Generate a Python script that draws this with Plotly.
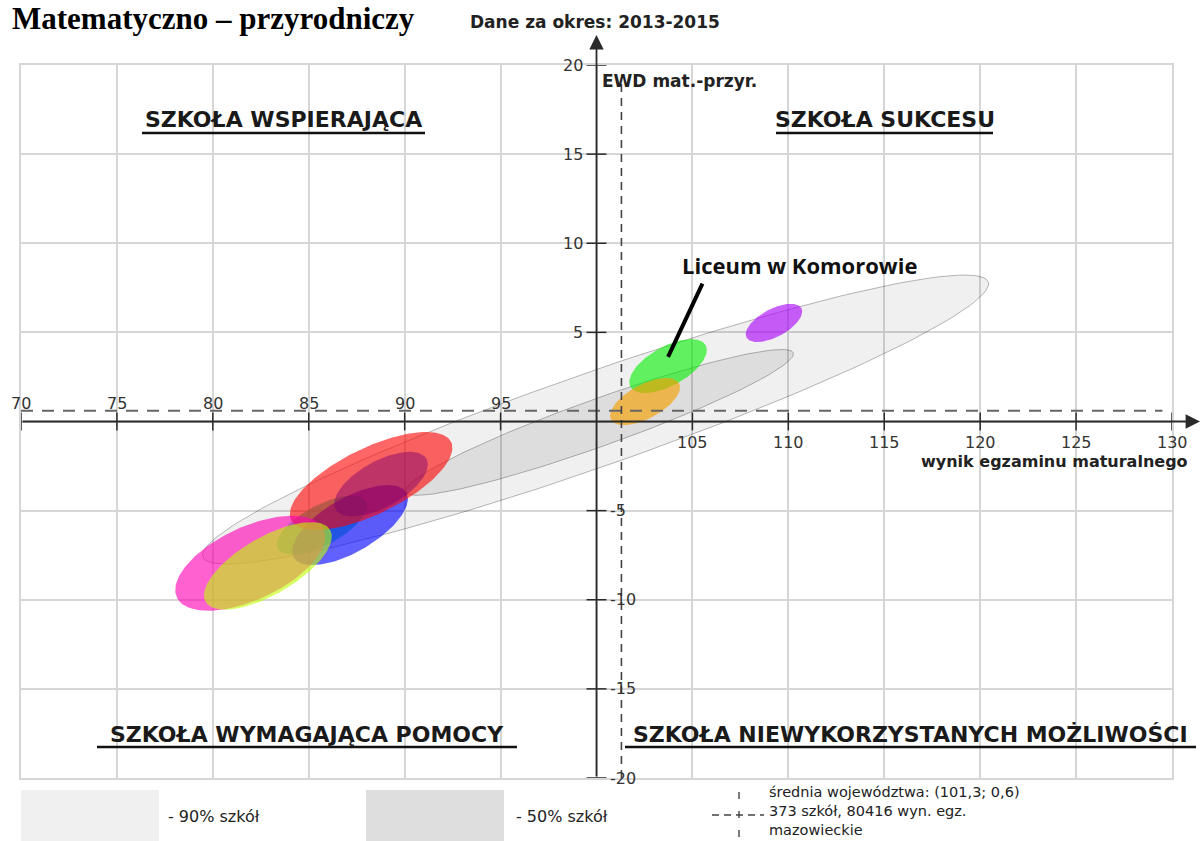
import numpy as np
import plotly.graph_objects as go

# ---------------- data ----------------
x_tick_vals = [70, 75, 80, 85, 90, 95, 105, 110, 115, 120, 125, 130]
y_tick_vals = [20, 15, 10, 5, -5, -10, -15, -20]
mean_x, mean_y = 101.3, 0.6

# ellipses: name, centre x, centre y, semi-axis a / b (x-units), angle (deg, on screen)
ell_names = ["90% szkół", "50% szkół", "teal", "blue", "red", "maroon", "magenta", "lime",
             "green", "orange", "purple"]
ell_cx = [99.95, 100.15, 85.69, 87.15, 88.25, 88.77, 81.95, 82.87, 103.73, 102.53, 109.25]
ell_cy = [0.11, -0.05, -5.81, -5.81, -3.34, -3.51, -7.95, -8.10, 3.11, 1.12, 5.53]
ell_a = [21.69, 10.74, 2.61, 3.39, 4.64, 2.71, 4.22, 3.75, 2.24, 2.01, 1.62]
ell_b = [2.45, 1.23, 1.04, 1.41, 1.72, 1.20, 1.90, 1.50, 1.02, 0.89, 0.73]
ell_ang = [19.3, 19.7, 28, 30, 26, 29, 25, 30, 29, 28, 28]

ell_fill = ["rgba(0,0,0,0.06)", "rgba(0,0,0,0.08)", "rgba(0,210,150,0.65)",
            "rgba(0,0,255,0.62)", "rgba(255,0,0,0.6)", "rgba(120,0,110,0.45)",
            "rgba(255,0,180,0.62)", "rgba(190,255,0,0.6)",
            "rgba(0,240,0,0.6)", "rgba(245,160,0,0.65)", "rgba(170,0,250,0.62)"]
ell_line = ["rgba(0,0,0,0.28)", "rgba(0,0,0,0.28)"] + ["rgba(0,0,0,0)"] * 9

quad_labels = ["SZKOŁA WSPIERAJĄCA", "SZKOŁA SUKCESU", "SZKOŁA WYMAGAJĄCA POMOCY",
               "SZKOŁA NIEWYKORZYSTANYCH MOŻLIWOŚCI"]
legend_lines = ["średnia województwa: (101,3; 0,6)", "373 szkół, 80416 wyn. egz.", "mazowieckie"]

# ---------------- layout geometry ----------------
W, H = 1201, 841
ML, MR, MT, MB = 21, 29, 65, 63
PW, PH = W - ML - MR, H - MT - MB
X_RANGE, Y_RANGE = [70, 130], [-20, 20]
SX = PW / (X_RANGE[1] - X_RANGE[0])
SY = PH / (Y_RANGE[1] - Y_RANGE[0])


def px(xp):
    return (xp - ML) / PW


def py(yp):
    return (H - MB - yp) / PH


def ellipse(cx, cy, a, b, ang):
    t = np.linspace(0, 2 * np.pi, 161)
    th = np.radians(ang)
    dx = a * np.cos(t) * np.cos(th) - b * np.sin(t) * np.sin(th)
    dy = (a * np.cos(t) * np.sin(th) + b * np.sin(t) * np.cos(th)) * SX / SY
    return cx + dx, cy + dy


fig = go.Figure()
for i in range(len(ell_names)):
    ex, ey = ellipse(ell_cx[i], ell_cy[i], ell_a[i], ell_b[i], ell_ang[i])
    fig.add_trace(go.Scatter(x=ex, y=ey, mode="lines", fill="toself",
                             fillcolor=ell_fill[i],
                             line=dict(color=ell_line[i], width=1),
                             hoverinfo="skip", showlegend=False, name=ell_names[i]))

GRID = "#d6d6d6"
AX = "#2a2a2a"
shapes = []
annotations = []


def ann(**kw):
    kw.setdefault("showarrow", False)
    kw.setdefault("yanchor", "middle")
    kw.setdefault("xanchor", "center")
    annotations.append(kw)


# mean dashed lines
shapes.append(dict(type="line", xref="x", yref="y", x0=X_RANGE[0], x1=129.5, y0=mean_y, y1=mean_y,
                   line=dict(color="#666", width=2, dash="12px,9px"), layer="above"))
shapes.append(dict(type="line", xref="x", yref="y", x0=mean_x, x1=mean_x, y0=Y_RANGE[0], y1=19.0,
                   line=dict(color="#444", width=1.6, dash="8px,6px"), layer="above"))

TF = dict(family="DejaVu Sans", size=16, color="#333")
# tick marks
for v in x_tick_vals:
    shapes.append(dict(type="line", xref="x", yref="y", x0=v, x1=v, y0=-0.5, y1=0.5,
                       line=dict(color=AX, width=1.5), layer="above"))
    ann(x=v, y=0, xref="x", yref="y", text=str(v), yshift=18 if v < 100 else -21, font=TF)
for v in y_tick_vals:
    shapes.append(dict(type="line", xref="x", yref="y", x0=99.48, x1=100.52, y0=v, y1=v,
                       line=dict(color=AX, width=1.5), layer="above"))
    ann(x=100, y=v, xref="x", yref="y", text=str(v),
        xanchor="right" if v > 0 else "left", xshift=-12 if v > 0 else 11, font=TF)

# axes with arrows
annotations.append(dict(x=px(1200), y=0, xref="paper", yref="y", ax=-(1200 - ML), ay=0,
                        axref="pixel", ayref="pixel", text="", showarrow=True,
                        arrowhead=2, arrowsize=1.6, arrowwidth=1.8, arrowcolor=AX, standoff=0))
annotations.append(dict(x=100, y=py(35), xref="x", yref="paper", ax=0, ay=(H - MB) - 35,
                        text="", showarrow=True,
                        arrowhead=2, arrowsize=1.6, arrowwidth=1.8, arrowcolor=AX, standoff=0))

# pointer to the school
annotations.append(dict(x=103.73, y=3.62, ax=105.56, ay=7.82, xref="x", yref="y",
                        axref="x", ayref="y", text="", showarrow=True, arrowhead=0,
                        arrowwidth=4, arrowcolor="#000"))
ann(x=110.6, y=8.78, xref="x", yref="y", text="<b>Liceum w Komorowie</b>",
    font=dict(family="Open Sans", size=22, color="#111"))

# axis titles
ann(x=100.2, y=19.1, xref="x", yref="y", text="<b>EWD mat.-przyr.</b>", xanchor="left",
    font=dict(family="DejaVu Sans", size=17, color="#222"))
ann(x=px(1190), y=py(461), xref="paper", yref="paper", text="<b>wynik egzaminu maturalnego</b>",
    xanchor="right", font=dict(family="DejaVu Sans", size=16, color="#222"))

# quadrant labels (text centre x, centre y, underline span in window px)
QF = dict(family="DejaVu Sans", size=22, color="#1a1a1a", weight="bold")
quad_pos = [(283.5, 120, 142, 425, 133), (884.5, 120, 776, 993, 133),
            (307, 734, 97, 517, 747), (910.5, 734, 625, 1196, 747)]
for lab, (cxp, cyp, u0, u1, uy) in zip(quad_labels, quad_pos):
    ann(x=px(cxp), y=py(cyp), xref="paper", yref="paper", text=lab, font=QF)
    shapes.append(dict(type="line", xref="paper", yref="paper", x0=px(u0), x1=px(u1),
                       y0=py(uy), y1=py(uy), line=dict(color="#111", width=2.5)))

# titles at top
ann(x=px(10), y=py(18), xref="paper", yref="paper", text="<b>Matematyczno – przyrodniczy</b>",
    xanchor="left", font=dict(family="Liberation Serif", size=31, color="#000"))
ann(x=px(595), y=py(22), xref="paper", yref="paper", text="<b>Dane za okres: 2013-2015</b>",
    font=dict(family="DejaVu Sans", size=17, color="#222"))

# legend row
shapes.append(dict(type="rect", xref="paper", yref="paper", x0=px(21), x1=px(159),
                   y0=py(845), y1=py(790), fillcolor="#f0f0f0", line=dict(width=0)))
shapes.append(dict(type="rect", xref="paper", yref="paper", x0=px(366), x1=px(504),
                   y0=py(845), y1=py(790), fillcolor="#dedede", line=dict(width=0)))
LF = dict(family="DejaVu Sans", size=16, color="#222")
ann(x=px(166), y=py(816), xref="paper", yref="paper", text="- 90% szkół", xanchor="left", font=LF)
ann(x=px(514), y=py(816), xref="paper", yref="paper", text="- 50% szkół", xanchor="left", font=LF)
shapes.append(dict(type="line", xref="paper", yref="paper", x0=px(712), x1=px(764),
                   y0=py(815), y1=py(815), line=dict(color="#444", width=1.4, dash="7px,5px")))
shapes.append(dict(type="line", xref="paper", yref="paper", x0=px(739), x1=px(739),
                   y0=py(792), y1=py(841), line=dict(color="#444", width=1.4, dash="7px,12px")))
ann(x=px(767), y=py(811), xref="paper", yref="paper", text="<br>".join(legend_lines),
    xanchor="left", align="left", font=dict(family="DejaVu Sans", size=14.5, color="#222"))

fig.update_layout(
    width=W, height=H, autosize=False,
    margin=dict(l=ML, r=MR, t=MT, b=MB, pad=0),
    paper_bgcolor="white", plot_bgcolor="white",
    xaxis=dict(range=X_RANGE, tick0=70, dtick=5, showgrid=True, gridcolor=GRID, gridwidth=2,
               showticklabels=False, ticks="", zeroline=False, showline=True, mirror=True,
               linecolor=GRID, linewidth=2, fixedrange=True),
    yaxis=dict(range=Y_RANGE, tick0=0, dtick=5, showgrid=True, gridcolor=GRID, gridwidth=2,
               showticklabels=False, ticks="", zeroline=False, showline=True, mirror=True,
               linecolor=GRID, linewidth=2, fixedrange=True),
    shapes=shapes, annotations=annotations, showlegend=False,
)

fig.write_html("out.html", config={"displayModeBar": False},
               post_script="document.body.style.margin='0';document.body.style.overflow='hidden';")
